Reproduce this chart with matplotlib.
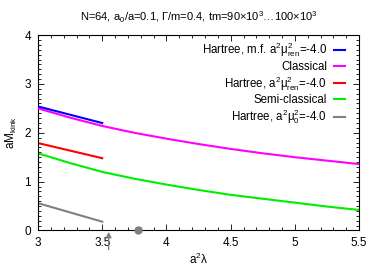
import matplotlib
matplotlib.use("Agg")
import matplotlib.pyplot as plt
from matplotlib.ticker import MultipleLocator

# data
x_short = [3.0, 3.5]
x_long = [3.0, 3.25, 3.5, 3.75, 4.0, 4.25, 4.5, 4.75, 5.0, 5.25, 5.5]

hartree_mf = [2.54, 2.20]
classical = [2.50, 2.31, 2.14, 2.00, 1.88, 1.77, 1.67, 1.58, 1.50, 1.43, 1.36]
hartree_ren = [1.79, 1.48]
semi_classical = [1.58, 1.38, 1.20, 1.06, 0.94, 0.83, 0.73, 0.65, 0.57, 0.49, 0.42]
hartree_bare = [0.56, 0.18]

arrow_x = 3.55
marker_x = 3.78

x_ticks = [3.0, 3.5, 4.0, 4.5, 5.0, 5.5]
x_tick_labels = ["3", "3.5", "4", "4.5", "5", "5.5"]
y_ticks = [0, 1, 2, 3, 4]

plt.rcParams['font.family'] = ['Liberation Sans', 'DejaVu Sans']
plt.rcParams['mathtext.default'] = 'regular'
plt.rcParams['font.size'] = 8.5

fig = plt.figure(figsize=(3.8, 2.66), dpi=100)
ax = fig.add_axes([0.1, 0.1335, 0.845, 0.7345])

lw = 1.5
ax.plot(x_short, hartree_mf, color='#0000ff', lw=lw, zorder=4,
        label='Hartree, m.f. a$^2$μ$^2_{ren}$=-4.0')
ax.plot(x_long, classical, color='#ff00ff', lw=lw, zorder=3, label='Classical')
ax.plot(x_short, hartree_ren, color='#ff0000', lw=lw,
        label='Hartree, a$^2$μ$^2_{ren}$=-4.0')
ax.plot(x_long, semi_classical, color='#00ee00', lw=lw, label='Semi-classical')
ax.plot(x_short, hartree_bare, color='#808080', lw=lw,
        label='Hartree, a$^2$μ$^2_0$=-4.0')

# marker on the axis and arrow from below
ax.plot([marker_x], [0], 'o', color='#808080', ms=5, clip_on=False, zorder=5)
ax.annotate('', xy=(arrow_x, 0.03), xytext=(arrow_x, -0.45),
            arrowprops=dict(arrowstyle='-|>', color='#808080', lw=1,
                            mutation_scale=8),
            annotation_clip=False)

ax.set_xlim(3, 5.5)
ax.set_ylim(0, 4)
ax.set_xticks(x_ticks)
ax.set_xticklabels(x_tick_labels)
ax.set_yticks(y_ticks)
ax.xaxis.set_minor_locator(MultipleLocator(0.1))
ax.yaxis.set_minor_locator(MultipleLocator(0.1))
ax.tick_params(which='both', direction='in', top=True, right=True, width=0.6)
ax.tick_params(which='major', length=4, pad=5)
ax.tick_params(which='minor', length=2)
for s in ax.spines.values():
    s.set_linewidth(0.8)

ax.set_xlabel('a$^2$λ', labelpad=2)
ax.set_ylabel('aM$_{kink}$', labelpad=4)
ax.set_title('N=64, a$_0$/a=0.1, Γ/m=0.4, tm=90×10$^3$…100×10$^3$',
             fontsize=8, pad=10)

ax.legend(loc='upper right', bbox_to_anchor=(0.972, 0.995), borderaxespad=0,
          frameon=False, markerfirst=False, handlelength=1.0,
          handletextpad=0.6, labelspacing=0.12, fontsize=8.3)

fig.savefig('out.png', dpi=100)
